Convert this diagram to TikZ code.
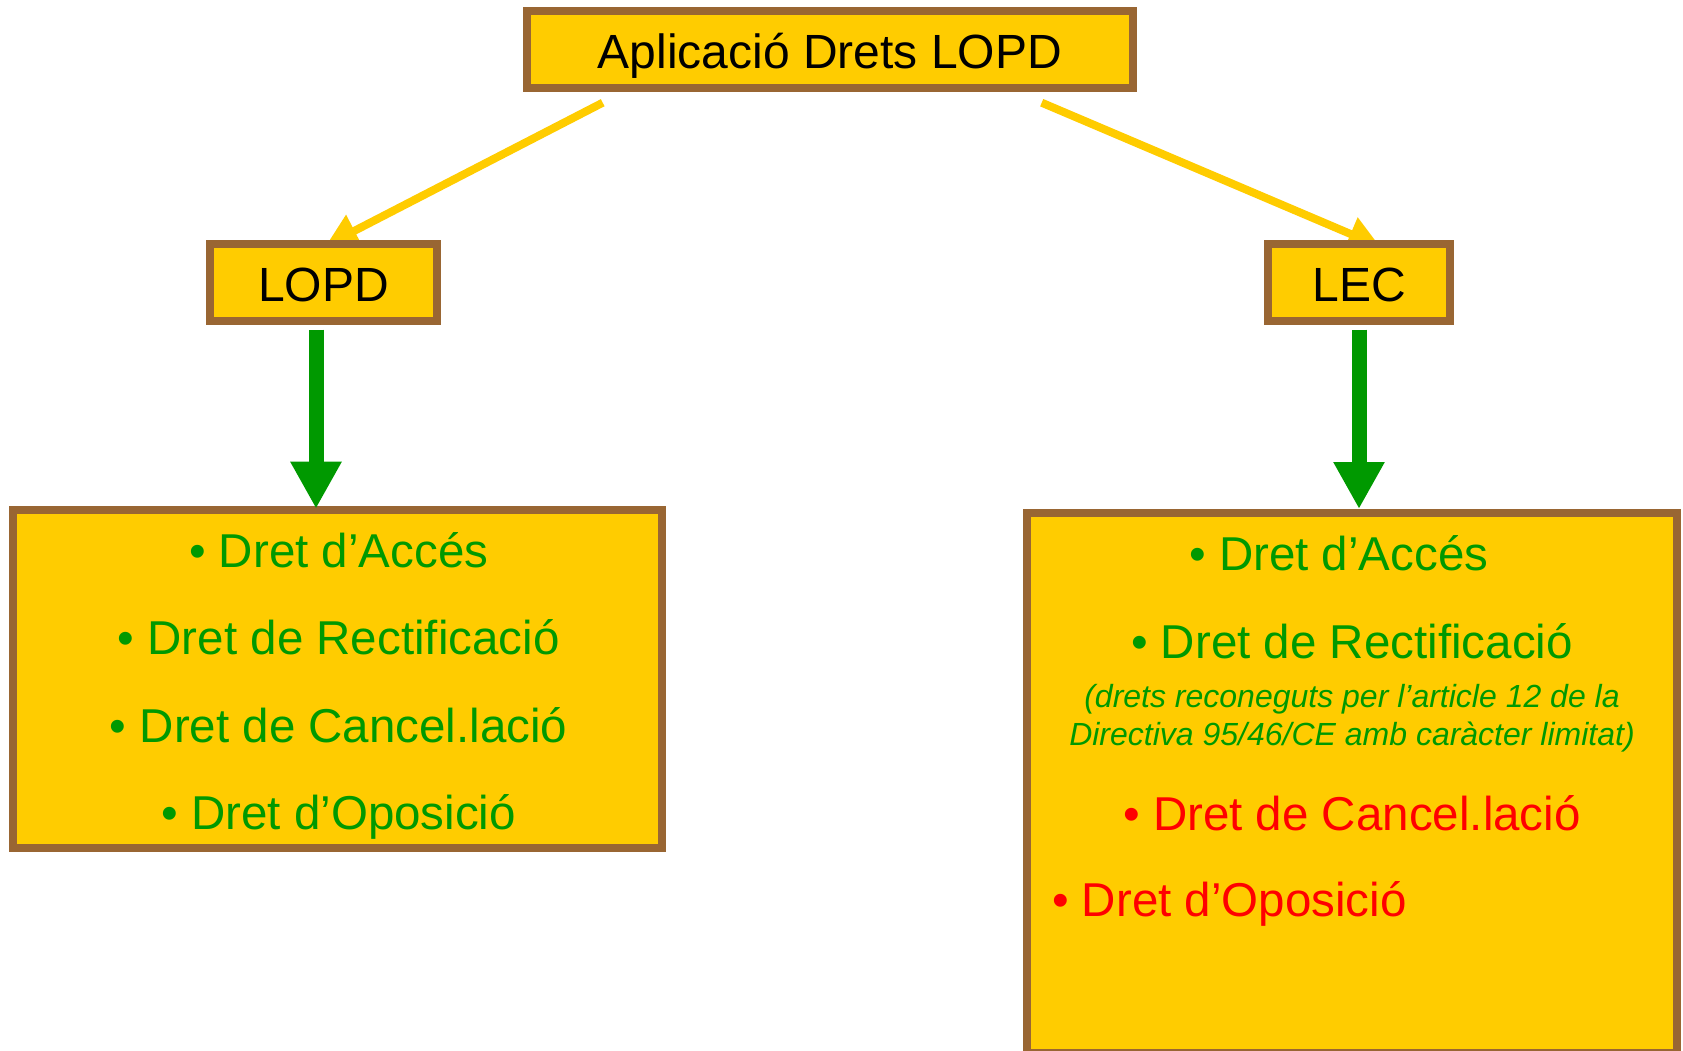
\documentclass[tikz,border=0pt]{standalone}
\usepackage{fontspec}
\setmainfont{Liberation Sans}
\usetikzlibrary{arrows.meta,backgrounds}
\definecolor{boxfill}{HTML}{FFCC00}
\definecolor{boxline}{HTML}{996633}
\definecolor{txtgreen}{HTML}{009900}
\definecolor{txtred}{HTML}{FF0000}
\definecolor{arrowyellow}{HTML}{FFCC00}
\begin{document}
\begin{tikzpicture}[x=1pt,y=-1pt,
  box/.style={draw=boxline, fill=boxfill, line width=8pt, inner sep=0pt},
  headbox/.style={box, minimum height=77pt, text height=38pt, text depth=0pt, font=\fontsize{48}{58}\selectfont},
  item/.style={anchor=base, inner sep=0pt, font=\fontsize{47.5}{57}\selectfont},
  note/.style={anchor=base, inner sep=0pt, font=\fontsize{32}{38}\selectfont\itshape, text=txtgreen},
  yarrow/.style={draw=arrowyellow, line width=8pt, -{Triangle[length=32pt,width=34pt]}},
  garrow/.style={draw=txtgreen, line width=15pt, -{Triangle[length=47pt,width=48pt]}},
]
\useasboundingbox (0,0) rectangle (1683,1051);

% boxes
\node[headbox, minimum width=606pt] (top) at (830,49.5) {Aplicació Drets LOPD};
\node[headbox, minimum width=227pt] (lopd) at (323.5,282) {LOPD};
\node[headbox, minimum width=182pt] (lec) at (1359,282) {LEC};
\node[box, minimum width=648.7pt, minimum height=338pt] (lbox) at (337.7,679) {};
\node[box, minimum width=650.3pt, minimum height=540pt] (rbox) at (1351.9,783) {};

% left list
\node[item, text=txtgreen] (l1) at (338.7,567.2) {• Dret d’Accés};
\node[item, text=txtgreen] (l2) at (338.7,654.7) {• Dret de Rectificació};
\node[item, text=txtgreen] (l3) at (338.7,742.5) {• Dret de Cancel.lació};
\node[item, text=txtgreen] (l4) at (338.7,829.6) {• Dret d’Oposició};

% right list
\node[item, text=txtgreen] (r1) at (1338.8,570.8) {• Dret d’Accés};
\node[item, text=txtgreen] (r2) at (1352,658) {• Dret de Rectificació};
\node[note] (n1) at (1352,707) {(drets reconeguts per l’article 12 de la};
\node[note] (n2) at (1352,745) {Directiva 95/46/CE amb caràcter limitat)};
\node[item, text=txtred] (r3) at (1352,830.5) {• Dret de Cancel.lació};
\node[item, text=txtred, anchor=base west] (r4) at (1052,916.7) {• Dret d’Oposició};

% connectors
\begin{scope}[on background layer]
  \fill[white] (0,0) rectangle (1683,1051);
  \coordinate (ya) at (602.7,102.7);
  \coordinate (yb) at (1041.7,102.7);
  \draw[yarrow] (ya) -- ([xshift=2.5pt,yshift=-6pt]lopd.north);
  \draw[yarrow] (yb) -- ([xshift=21pt,yshift=-7pt]lec.north);
\end{scope}
\coordinate (gls) at ([xshift=-7.5pt,yshift=-5pt]lopd.south);
\coordinate (grs) at ([yshift=-5pt]lec.south);
\coordinate (gle) at ([yshift=-2.7pt]gls |- lbox.north);
\draw[garrow] (gls) -- (gle);
\draw[garrow] (grs) -- (grs |- rbox.north);
\end{tikzpicture}
\end{document}
